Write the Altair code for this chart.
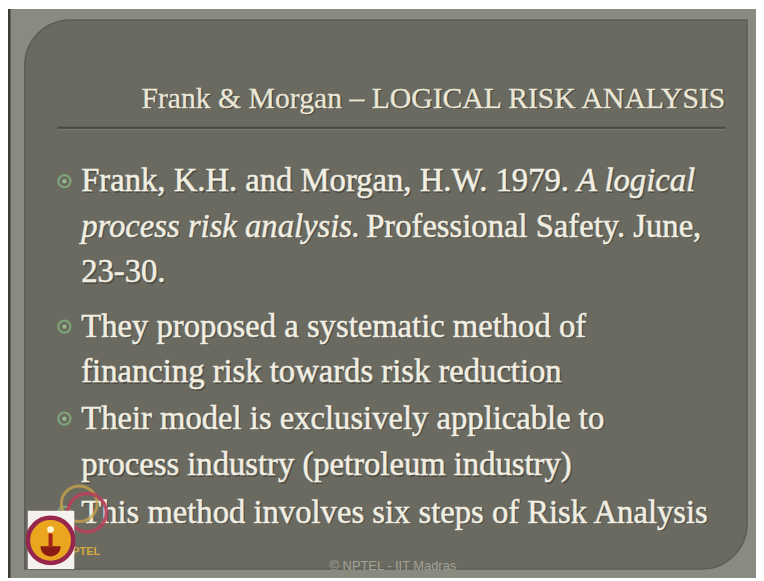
import altair as alt
import pandas as pd

# ---------------- content ----------------
title_text = "Frank & Morgan – LOGICAL RISK ANALYSIS"
footer_text = "© NPTEL - IIT Madras"
logo_text = "NPTEL"

seg_line = [1, 1, 2, 2, 3, 4, 5, 6, 7, 8]
seg_text = [
    "Frank, K.H. and Morgan, H.W. 1979.", "A logical",
    "process risk analysis.", "Professional Safety. June,",
    "23-30.",
    "They proposed a systematic method of",
    "financing risk towards risk reduction",
    "Their model is exclusively applicable to",
    "process industry (petroleum industry)",
    "This method involves six steps of Risk Analysis",
]
seg_italic = [False, True, True, False, False, False, False, False, False, False]
bullet_lines = [1, 4, 6, 8]

# ---------------- layout (page pixels) ----------------
line_baseline = {1: 193, 2: 239, 3: 285, 4: 340, 5: 386, 6: 433, 7: 480, 8: 528}
seg_x = [82, 583, 82, 370, 82, 82, 82, 82, 82, 82]
bullet_x = 65
text_size = 33
title_size = 30
text_col = "#f1eee2"

X = alt.Scale(domain=[8, 764], nice=False, zero=False)
Y = alt.Scale(domain=[11, 584], reverse=True, nice=False, zero=False)

def xq(f):
    return alt.X(f, type="quantitative", scale=X, axis=None)

def yq(f):
    return alt.Y(f, type="quantitative", scale=Y, axis=None)

def box(x, x2, y, y2):
    return pd.DataFrame({"x": [x], "x2": [x2], "y": [y], "y2": [y2]})

def rect(df, **kw):
    return alt.Chart(df).mark_rect(**kw).encode(
        x=xq("x"), x2="x2", y=yq("y"), y2="y2")

def pt(x, y):
    return pd.DataFrame({"x": [x], "y": [y]})

# background frame
outer = rect(box(10, 764, 9, 584), color="#8a8b80")
left_edge = rect(box(8, 10.5, 9, 584), color="#3c3c35")
inner = rect(box(25, 755, 20, 575), color="#6a6a61",
             cornerRadiusTopLeft=46, cornerRadiusBottomRight=46,
             stroke="#5c5c55", strokeWidth=1.5)

# title
title_df = pd.DataFrame({"t": [title_text], "x": [733], "y": [109]})
title_shadow = alt.Chart(title_df).mark_text(
    align="right", baseline="alphabetic", font="Liberation Serif",
    fontSize=title_size, color="#3a3a34", opacity=0.7, dx=1.5, dy=1.5
).encode(x=xq("x"), y=yq("y"), text="t")
title = alt.Chart(title_df).mark_text(
    align="right", baseline="alphabetic", font="Liberation Serif",
    fontSize=title_size, color="#ebe7d6", stroke="#ebe7d6", strokeWidth=0.3
).encode(x=xq("x"), y=yq("y"), text="t")

# title underline
underline = alt.Chart(pd.DataFrame({"x": [58], "x2": [733], "y": [129]})).mark_rule(
    color="#4a4a43", strokeWidth=2).encode(x=xq("x"), x2="x2", y=yq("y"))
underline2 = alt.Chart(pd.DataFrame({"x": [58], "x2": [733], "y": [131]})).mark_rule(
    color="#7e7f75", strokeWidth=1).encode(x=xq("x"), x2="x2", y=yq("y"))

# body text
segs = pd.DataFrame({"line": seg_line, "t": seg_text, "italic": seg_italic})
segs["x"] = seg_x
segs["y"] = [line_baseline[l] for l in seg_line]

def body(italic, shadow):
    d = segs[segs["italic"] == italic]
    kw = dict(align="left", baseline="alphabetic", font="Liberation Serif",
              fontSize=text_size)
    if italic:
        kw["fontStyle"] = "italic"
    if shadow:
        kw.update(color="#3a3a34", opacity=0.6, dx=1.5, dy=1.5)
    else:
        kw.update(color=text_col, stroke=text_col, strokeWidth=0.5)
    return alt.Chart(d).mark_text(**kw).encode(x=xq("x"), y=yq("y"), text="t")

# bullets
bul = pd.DataFrame({"line": bullet_lines})
bul["x"] = bullet_x
bul["y"] = [line_baseline[l] - 10 for l in bullet_lines]
bullet_ring = alt.Chart(bul).mark_point(
    shape="circle", filled=False, size=150, strokeWidth=2.2, color="#7fa477", opacity=1
).encode(x=xq("x"), y=yq("y"))
bullet_dot = alt.Chart(bul).mark_circle(size=20, color="#93b88a", opacity=1).encode(
    x=xq("x"), y=yq("y"))

# footer
footer = alt.Chart(pd.DataFrame({"t": [footer_text], "x": [333], "y": [576]})).mark_text(
    align="left", baseline="alphabetic", font="Liberation Sans",
    fontSize=13, color="#a3a397"
).encode(x=xq("x"), y=yq("y"), text="t")

# NPTEL logo
ring_b = alt.Chart(pt(80, 509)).mark_point(
    shape="circle", filled=False, size=1300, strokeWidth=3, color="#c9a64a", opacity=0.75
).encode(x=xq("x"), y=yq("y"))
ring_a = alt.Chart(pt(88, 518)).mark_point(
    shape="circle", filled=False, size=1500, strokeWidth=3.5, color="#b8405c", opacity=0.9
).encode(x=xq("x"), y=yq("y"))
logo_bg = rect(box(28, 75, 516, 575), color="#f4f1ee")
logo_circle = alt.Chart(pt(51, 546)).mark_point(
    shape="circle", filled=True, size=2100, color="#eba620", opacity=1,
    stroke="#96264c", strokeWidth=4.5
).encode(x=xq("x"), y=yq("y"))
bowl = alt.Chart(pt(51, 552)).mark_point(
    shape="M -1 0 L 1 0 A 1 1 0 0 1 -1 0 Z", filled=True, size=420,
    color="#8a1c14", opacity=1
).encode(x=xq("x"), y=yq("y"))
stem = rect(box(49, 53, 539, 552), color="#a52618")
flame = alt.Chart(pt(51, 535)).mark_point(
    shape="circle", filled=True, size=45, color="#fff6d2", opacity=1
).encode(x=xq("x"), y=yq("y"))
logo_lbl = alt.Chart(pd.DataFrame({"t": [logo_text], "x": [65], "y": [561]})).mark_text(
    align="left", baseline="alphabetic", font="Liberation Sans", fontSize=11,
    fontWeight="bold", color="#d6a840"
).encode(x=xq("x"), y=yq("y"), text="t")

chart = alt.layer(
    outer, left_edge, inner,
    underline, underline2,
    title_shadow, title,
    bullet_ring, bullet_dot,
    body(False, True), body(True, True), body(False, False), body(True, False),
    footer,
    ring_b, ring_a, logo_lbl, logo_bg, logo_circle, stem, bowl, flame,
).properties(
    width=756, height=573, padding=0,
    autosize=alt.AutoSizeParams(type="none"),
    background="white",
).configure_view(stroke=None)

chart.save("out.html", embed_options={"renderer": "svg", "actions": False})
